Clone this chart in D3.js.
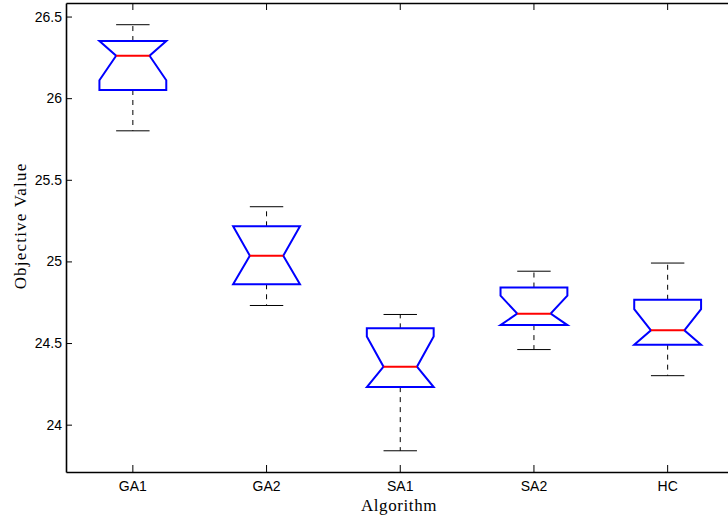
<!DOCTYPE html>
<html>
<head>
<meta charset="utf-8">
<script src="https://cdn.jsdelivr.net/npm/d3@7"></script>
<style>
  body { margin: 0; background: #fff; }
  svg { display: block; }
</style>
</head>
<body>
<div id="vis"></div>
<script>
const algorithms = ['GA1', 'GA2', 'SA1', 'SA2', 'HC']
const whiskerLo = [25.80, 24.73, 23.84, 24.46, 24.30]
const q1 = [26.05, 24.86, 24.23, 24.61, 24.49]
const medians = [26.26, 25.035, 24.355, 24.68, 24.578]
const q3 = [26.35, 25.215, 24.59, 24.84, 24.765]
const whiskerHi = [26.45, 25.335, 24.675, 24.94, 24.99]
const notchLo = [26.11, 24.835, 24.17, 24.57, 24.446]
const notchHi = [26.41, 25.235, 24.54, 24.79, 24.708]
const yTicks = [24, 24.5, 25, 25.5, 26, 26.5]

const W = 728, H = 519
const margin = { top: 3, left: 66, bottom: 47 }
const plotRight = 734.5
const plotBottom = H - margin.bottom

const svg = d3.select('#vis')
    .append('svg')
    .attr('width', W)
    .attr('height', H)

const xScale = d3.scaleBand()
    .domain(algorithms)
    .range([margin.left, plotRight])
    .padding(0)

const yScale = d3.scaleLinear()
    .domain([23.71, 26.583])
    .range([plotBottom, margin.top])

const boxes = algorithms.map((name, i) => ({
    name,
    lo: whiskerLo[i], q1: q1[i], med: medians[i], q3: q3[i], hi: whiskerHi[i],
    nlo: Math.max(notchLo[i], q1[i]), nhi: Math.min(notchHi[i], q3[i])
}))

const half = xScale.bandwidth() / 4      // box half-width
const inner = half / 2                   // notch & cap half-width

// axes
const yAxis = d3.axisLeft(yScale)
    .tickValues(yTicks)
    .tickFormat(d => String(d))
    .tickSizeInner(-6)
    .tickSizeOuter(0)
    .tickPadding(4)

const xAxis = d3.axisBottom(xScale)
    .tickSizeInner(-7)
    .tickSizeOuter(0)
    .tickPadding(9)

const xTop = d3.axisTop(xScale)
    .tickSizeInner(-7)
    .tickSizeOuter(0)
    .tickFormat('')

svg.append('g')
    .attr('class', 'axis')
    .attr('transform', `translate(${margin.left},0)`)
    .call(yAxis)

svg.append('g')
    .attr('class', 'axis')
    .attr('transform', `translate(0,${plotBottom})`)
    .call(xAxis)

svg.append('g')
    .attr('class', 'axis')
    .attr('transform', `translate(0,${margin.top})`)
    .call(xTop)

svg.selectAll('.axis path')
    .attr('stroke', '#000')
    .attr('stroke-width', 1.6)
svg.selectAll('.axis line')
    .attr('stroke', '#000')
    .attr('stroke-width', 1)
svg.selectAll('.axis text')
    .attr('fill', '#000')
    .style('font-family', '"Liberation Sans", Arial, sans-serif')
    .style('font-size', '14px')

// right frame edge (just outside the window)
svg.append('line')
    .attr('x1', plotRight).attr('x2', plotRight)
    .attr('y1', margin.top).attr('y2', plotBottom)
    .attr('stroke', '#000').attr('stroke-width', 1.6)

// boxes
const g = svg.selectAll('.box')
    .data(boxes)
    .join('g')
    .attr('class', 'box')
    .attr('transform', d => `translate(${xScale(d.name) + xScale.bandwidth() / 2},0)`)

// whiskers
g.append('line')
    .attr('x1', 0).attr('x2', 0)
    .attr('y1', d => yScale(d.q3)).attr('y2', d => yScale(d.hi))
    .attr('stroke', '#000').attr('stroke-width', 1)
    .attr('stroke-dasharray', '5,5')
g.append('line')
    .attr('x1', 0).attr('x2', 0)
    .attr('y1', d => yScale(d.q1)).attr('y2', d => yScale(d.lo))
    .attr('stroke', '#000').attr('stroke-width', 1)
    .attr('stroke-dasharray', '5,5')

// caps
g.selectAll('.cap')
    .data(d => [d.lo, d.hi])
    .join('line')
    .attr('class', 'cap')
    .attr('x1', -inner).attr('x2', inner)
    .attr('y1', v => yScale(v)).attr('y2', v => yScale(v))
    .attr('stroke', '#000').attr('stroke-width', 1)

// notched box
g.append('path')
    .attr('d', d => {
        const pts = [
            [-half, yScale(d.q1)], [-half, yScale(d.nlo)], [-inner, yScale(d.med)],
            [-half, yScale(d.nhi)], [-half, yScale(d.q3)], [half, yScale(d.q3)],
            [half, yScale(d.nhi)], [inner, yScale(d.med)], [half, yScale(d.nlo)],
            [half, yScale(d.q1)]
        ]
        return d3.line()(pts) + 'Z'
    })
    .attr('fill', 'none')
    .attr('stroke', '#0000ff')
    .attr('stroke-width', 2)
    .attr('stroke-linejoin', 'miter')

// median
g.append('line')
    .attr('x1', -inner).attr('x2', inner)
    .attr('y1', d => yScale(d.med)).attr('y2', d => yScale(d.med))
    .attr('stroke', '#ff0000').attr('stroke-width', 2)

// axis titles
svg.append('text')
    .attr('x', 399)
    .attr('y', 511)
    .attr('text-anchor', 'middle')
    .style('font-family', '"Liberation Serif", "DejaVu Serif", serif')
    .style('font-size', '17px')
    .style('letter-spacing', '0.6px')
    .text('Algorithm')

svg.append('text')
    .attr('transform', 'translate(26,226) rotate(-90)')
    .attr('text-anchor', 'middle')
    .style('font-family', '"Liberation Serif", "DejaVu Serif", serif')
    .style('font-size', '17px')
    .style('letter-spacing', '1.2px')
    .text('Objective Value')
</script>
</body>
</html>
